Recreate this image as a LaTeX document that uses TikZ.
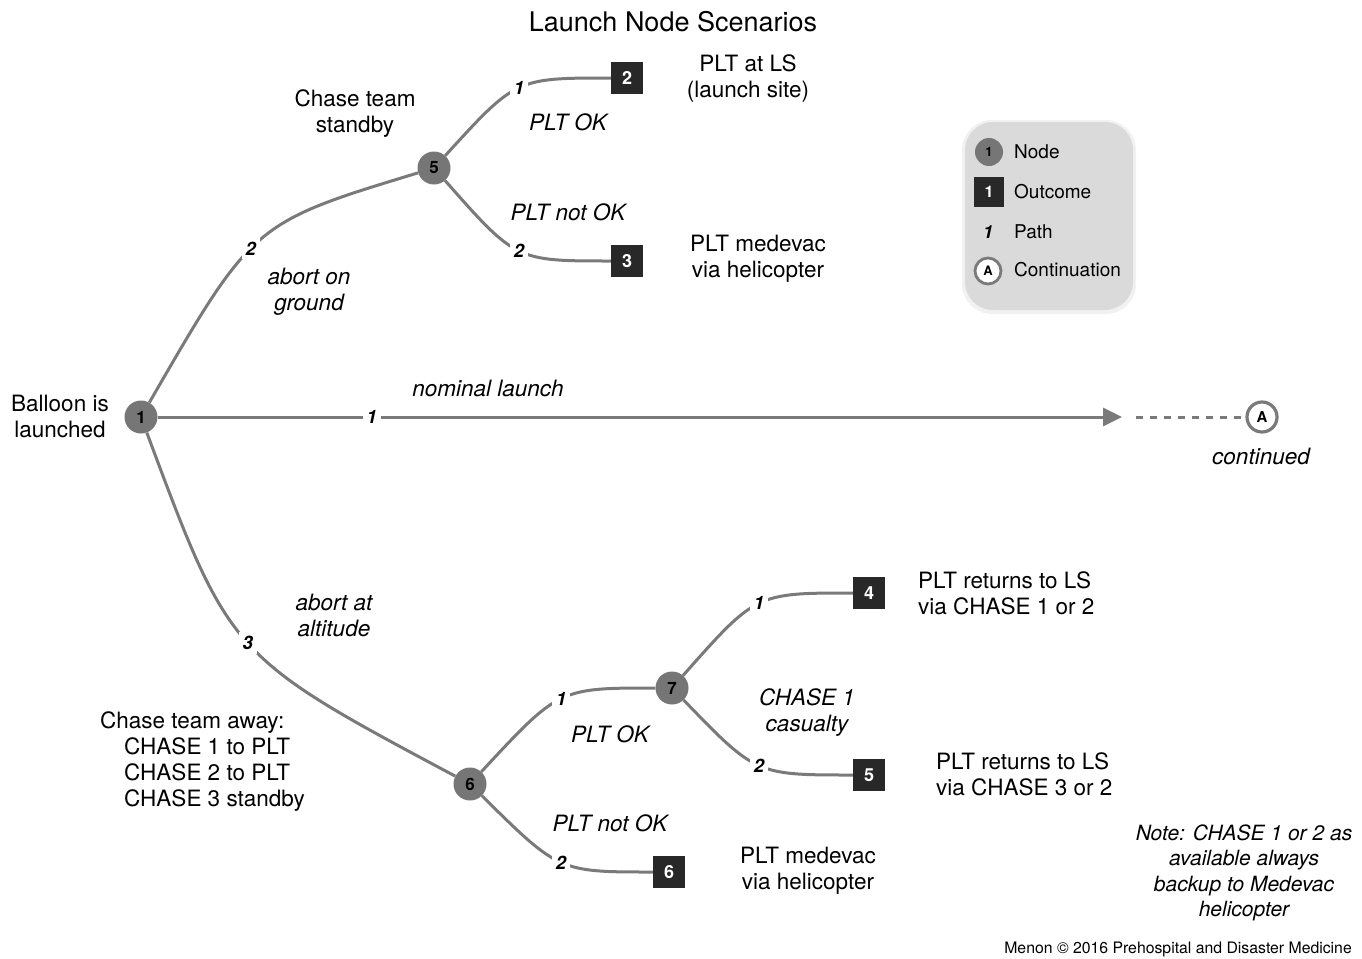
\documentclass[tikz,border=0pt]{standalone}
\usepackage{fontspec}
\setmainfont{TeX Gyre Heros}
\usetikzlibrary{arrows.meta}
\definecolor{linegray}{HTML}{7A7A7A}
\definecolor{nodegray}{HTML}{767676}
\definecolor{boxdark}{HTML}{282828}
\definecolor{legendgray}{HTML}{DADADA}
\definecolor{shadowgray}{HTML}{F1F1F1}
\begin{document}
\begin{tikzpicture}[x=1pt,y=-1pt,
  every node/.style={font=\fontsize{22.5}{26}\selectfont, inner sep=0pt},
  decnode/.style={circle, fill=nodegray, minimum size=33pt, font=\fontsize{17}{17}\selectfont\bfseries, text=black},
  outbox/.style={rectangle, fill=boxdark, minimum size=32pt, font=\fontsize{18}{18}\selectfont\bfseries, text=white},
  contnode/.style={circle, draw=linegray, line width=3.2pt, fill=white, minimum size=30pt, font=\fontsize{15}{15}\selectfont\bfseries},
  pathnum/.style={fill=white, inner sep=4pt, font=\fontsize{18.5}{18.5}\selectfont\bfseries\itshape},
  branch/.style={draw=linegray, line width=3pt},
  lbl/.style={align=center},
  ilbl/.style={align=center, font=\fontsize{22.5}{26}\selectfont\itshape},
  legtext/.style={anchor=west, font=\fontsize{19}{22}\selectfont},
]
\useasboundingbox (0,0) rectangle (1362,958);

% ---------- title
\node (title) at (673,22) {\fontsize{27}{30}\selectfont Launch Node Scenarios};

% ---------- decision nodes and outcomes
\node[decnode] (n1) at (141,417) {1};
\node[decnode] (n5) at (434,168) {5};
\node[decnode] (n6) at (470,784) {6};
\node[decnode] (n7) at (672,688) {7};
\node[outbox] (b2) at (627,78) {2};
\node[outbox] (b3) at (627,261) {3};
\node[outbox] (b4) at (869,593) {4};
\node[outbox] (b5) at (869,775) {5};
\node[outbox] (b6) at (669,872) {6};
\node[contnode] (cA) at (1262,417) {A};

% ---------- control corners
\coordinate (c15) at (253,223);
\coordinate (c16) at (230,656);
\coordinate (c52) at (516,78);
\coordinate (c53) at (516,261);
\coordinate (c67) at (559,688);
\coordinate (c6b) at (559,872);
\coordinate (c74) at (756,593);
\coordinate (c75) at (756,775);
\coordinate (arrtip) at (1122,417);
\coordinate (dashstart) at (1136,417);

% ---------- connectors
\draw[branch] (n1) .. controls (c15) .. node[pathnum, pos=0.45] {2} (n5);
\draw[branch] (n1) .. controls (c16) .. node[pathnum, pos=0.5] {3} (n6);
\draw[branch, -{Triangle[length=19pt,width=18pt]}] (n1) -- node[pathnum, pos=0.222] {1} (arrtip);
\draw[linegray, line width=3pt, dash pattern=on 7pt off 7pt] (dashstart) -- (cA);
\draw[branch] (n5) .. controls (c52) .. node[pathnum, pos=0.5] {1} (b2);
\draw[branch] (n5) .. controls (c53) .. node[pathnum, pos=0.5] {2} (b3);
\draw[branch] (n6) .. controls (c67) .. node[pathnum, pos=0.5] {1} (n7);
\draw[branch] (n6) .. controls (c6b) .. node[pathnum, pos=0.5] {2} (b6);
\draw[branch] (n7) .. controls (c74) .. node[pathnum, pos=0.5] {1} (b4);
\draw[branch] (n7) .. controls (c75) .. node[pathnum, pos=0.5] {2} (b5);

% ---------- labels
\node[lbl] (tballoon) at (60,416) {Balloon is\\launched};
\node[lbl] (tstandby) at (355,114) {Chase team\\standby};
\node[lbl] (tatls) at (748,78) {PLT at LS\\(launch site)};
\node[lbl] (tmed1) at (758,259) {PLT medevac\\via helicopter};
\node[ilbl] (tok1) at (568,122) {PLT OK};
\node[ilbl] (tnotok1) at (568,212) {PLT not OK};
\node[ilbl] (tground) at (309,292) {abort on\\ground};
\node[ilbl] (tnominal) at (488,388) {nominal launch};
\node[ilbl] (tcont) at (1261,456) {continued};
\node[ilbl] (talt) at (334,615) {abort at\\altitude};
\node[align=left, anchor=west] (taway) at (100,762) {Chase team away:\\\hspace*{24pt}CHASE 1 to PLT\\\hspace*{24pt}CHASE 2 to PLT\\\hspace*{24pt}CHASE 3 standby};
\node[align=left, anchor=west] (tret1) at (918,593) {PLT returns to LS\\via CHASE 1 or 2};
\node[ilbl] (tcas) at (807,713) {CHASE 1\\casualty};
\node[align=left, anchor=west] (tret2) at (936,774) {PLT returns to LS\\via CHASE 3 or 2};
\node[ilbl] (tok2) at (610,734) {PLT OK};
\node[ilbl] (tnotok2) at (610,823) {PLT not OK};
\node[lbl] (tmed2) at (808,871) {PLT medevac\\via helicopter};
\node[align=center, font=\fontsize{21}{25.5}\selectfont\itshape] (tnote) at (1244,873) {Note: CHASE 1 or 2 as\\available always\\backup to Medevac\\helicopter};
\node[anchor=east, font=\fontsize{15.8}{18}\selectfont] (tcopy) at (1352,949) {Menon © 2016 Prehospital and Disaster Medicine};

% ---------- legend
\node[fill=shadowgray, rounded corners=30pt, minimum width=174pt, minimum height=194pt] (legshadow) at (1049,217) {};
\node[fill=legendgray, rounded corners=28pt, minimum width=168pt, minimum height=188pt] (legend) at (1049,216) {};
\node[decnode, minimum size=28pt, font=\fontsize{13}{13}\selectfont\bfseries] (lnode) at (989,152) {1};
\node[outbox, minimum size=30pt, font=\fontsize{16}{16}\selectfont\bfseries] (lbox) at (989,192) {1};
\node[font=\fontsize{18}{18}\selectfont\bfseries\itshape] (lpath) at (988,232) {1};
\node[contnode, minimum size=26pt, line width=2.8pt, font=\fontsize{13}{13}\selectfont\bfseries] (lcont) at (988,271) {A};
\node[legtext] (lt1) at (1014,152) {Node};
\node[legtext] (lt2) at (1014,192) {Outcome};
\node[legtext] (lt3) at (1014,232) {Path};
\node[legtext] (lt4) at (1014,270) {Continuation};
\end{tikzpicture}
\end{document}
